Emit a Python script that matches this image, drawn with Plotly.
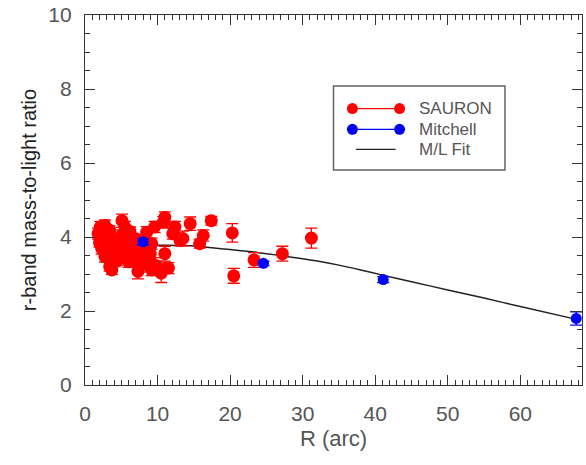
import plotly.graph_objects as go

# SAURON kinematic M/L measurements: radius (arcsec), M/L, 1-sigma error
sauron_r = [1.8, 2.0, 2.1, 2.2, 2.3, 2.3, 2.5, 2.75, 2.75, 3.0, 3.0, 3.2, 3.4, 3.4,
            3.7, 3.7, 4.1, 4.1, 4.4, 4.6, 4.8, 5.0, 5.1, 5.3, 5.5, 5.5, 5.8, 6.0,
            6.0, 6.2, 6.4, 6.65, 6.9, 7.0, 7.1, 7.3, 7.5, 7.8, 8.0, 8.3, 8.5, 8.9,
            9.0, 9.2, 9.2, 9.6, 9.6, 9.9, 10.5, 10.8, 11.0, 11.0, 11.5, 12.1, 12.4,
            13.1, 13.5, 14.5, 15.8, 16.3, 17.4, 20.3, 20.5, 23.3, 27.2, 31.2]
sauron_ml = [4.09, 3.85, 4.27, 4.05, 4.27, 3.69, 3.96, 4.31, 3.47, 4.00, 3.65, 3.82, 4.18, 3.20,
             3.60, 3.11, 3.91, 3.42, 3.35, 3.69, 3.85, 4.04, 4.44, 3.55, 4.27, 3.56, 3.75, 4.00,
             3.33, 4.15, 3.64, 3.82, 3.51, 3.95, 3.33, 3.07, 3.70, 3.60, 3.42, 3.29, 4.13, 3.20,
             3.55, 3.82, 3.11, 4.27, 3.24, 3.20, 3.02, 4.40, 4.53, 3.55, 3.16, 4.09, 4.27,
             3.91, 3.96, 4.36, 3.82, 4.04, 4.44, 4.11, 2.95, 3.38, 3.55, 3.97]
sauron_err = [0.15, 0.12, 0.15, 0.12, 0.12, 0.15, 0.15, 0.15, 0.15, 0.12, 0.12, 0.12, 0.12, 0.12,
              0.15, 0.12, 0.12, 0.15, 0.12, 0.15, 0.12, 0.15, 0.18, 0.15, 0.15, 0.12, 0.12, 0.12,
              0.15, 0.12, 0.15, 0.12, 0.15, 0.12, 0.15, 0.20, 0.12, 0.12, 0.15, 0.15, 0.15, 0.15,
              0.12, 0.15, 0.15, 0.15, 0.20, 0.15, 0.25, 0.15, 0.15, 0.20, 0.15, 0.15, 0.15,
              0.15, 0.20, 0.18, 0.12, 0.15, 0.12, 0.25, 0.20, 0.20, 0.20, 0.27]

# Mitchell long-slit points
mitchell_r = [8.0, 24.6, 41.1, 67.7]
mitchell_ml = [3.87, 3.29, 2.85, 1.80]
mitchell_err = [0.08, 0.06, 0.08, 0.18]

# Fitted M/L profile
fit_r = [1.6, 2.5, 4.0, 7.0, 10.0, 14.0, 17.5, 20.0, 23.0, 26.5, 29.0, 32.0, 35.0, 38.0,
         41.0, 45.0, 50.0, 55.0, 60.0, 67.6]
fit_ml = [3.90, 3.86, 3.80, 3.79, 3.78, 3.77, 3.71, 3.66, 3.60, 3.51, 3.44, 3.35, 3.24, 3.11,
          2.97, 2.79, 2.57, 2.35, 2.12, 1.78]

legend_labels = ["SAURON", "Mitchell", "M/L Fit"]

RED = "#ff0000"
BLUE = "#0000ff"
AXIS = "#333333"
TEXT = "#555555"

fig = go.Figure()

fig.add_trace(go.Scatter(
    x=fit_r, y=fit_ml, mode="lines", line_shape="spline",
    line=dict(color="#222222", width=1.5, smoothing=0.6), showlegend=False))

fig.add_trace(go.Scatter(
    x=sauron_r, y=sauron_ml, mode="markers",
    marker=dict(color=RED, size=13, line=dict(width=0)),
    error_y=dict(type="data", array=sauron_err, color=RED, thickness=1.3, width=6),
    showlegend=False))

fig.add_trace(go.Scatter(
    x=mitchell_r, y=mitchell_ml, mode="markers",
    marker=dict(color=BLUE, size=11, line=dict(width=0)),
    error_y=dict(type="data", array=mitchell_err, color=BLUE, thickness=1.3, width=6),
    showlegend=False))

# Legend keys drawn on an overlay axis spanning the plot area
key_x = [0.538, 0.633]
key_rows = [0.747, 0.691, 0.637]
fig.add_trace(go.Scatter(
    x=key_x, y=[key_rows[0]] * 2, mode="lines+markers", xaxis="x2", yaxis="y2",
    line=dict(color=RED, width=1.2), marker=dict(color=RED, size=11),
    showlegend=False, hoverinfo="skip"))
fig.add_trace(go.Scatter(
    x=key_x, y=[key_rows[1]] * 2, mode="lines+markers", xaxis="x2", yaxis="y2",
    line=dict(color=BLUE, width=1.2), marker=dict(color=BLUE, size=11),
    showlegend=False, hoverinfo="skip"))
fig.add_trace(go.Scatter(
    x=[0.545, 0.625], y=[key_rows[2]] * 2, mode="lines", xaxis="x2", yaxis="y2",
    line=dict(color="#222222", width=1.2),
    showlegend=False, hoverinfo="skip"))

for label, row in zip(legend_labels, key_rows):
    fig.add_annotation(x=0.668, y=row, xref="x2", yref="y2", text=label,
                       showarrow=False, xanchor="left", yanchor="middle",
                       font=dict(family="Liberation Sans", size=17, color=TEXT))

fig.add_shape(type="rect", xref="paper", yref="paper",
              x0=0.50, x1=0.845, y0=0.581, y1=0.808,
              line=dict(color="#666666", width=1.5), fillcolor="rgba(0,0,0,0)")

axis_common = dict(
    showgrid=False, zeroline=False, showline=True, linecolor=AXIS, linewidth=1.2,
    mirror="allticks", ticks="inside", tickcolor=AXIS, tickwidth=1,
    ticklen=10, ticklabeloverflow="allow",
    tickfont=dict(family="Liberation Sans", size=21, color=TEXT),
)

fig.update_layout(
    width=586, height=465,
    margin=dict(l=85, r=3, t=10, b=80),
    paper_bgcolor="white", plot_bgcolor="white",
    xaxis=dict(range=[0, 68.5], tickvals=[0, 10, 20, 30, 40, 50, 60],
               ticklabelstandoff=10,
               minor=dict(dtick=1, ticks="inside", ticklen=5, tickcolor=AXIS),
               title=dict(text="R (arc)", standoff=6,
                          font=dict(family="Liberation Sans", size=22, color=TEXT)),
               **axis_common),
    yaxis=dict(range=[0, 10.0001], tickvals=[0, 2, 4, 6, 8, 10],
               ticklabelstandoff=8,
               minor=dict(dtick=0.5, ticks="inside", ticklen=5, tickcolor=AXIS),
               title=dict(text="r-band mass-to-light ratio", standoff=6,
                          font=dict(family="Liberation Sans", size=20, color="#222222")),
               **axis_common),
    xaxis2=dict(range=[0, 1], overlaying="x", visible=False, fixedrange=True),
    yaxis2=dict(range=[0, 1], overlaying="y", visible=False, fixedrange=True),
)

fig.write_html("out.html")
